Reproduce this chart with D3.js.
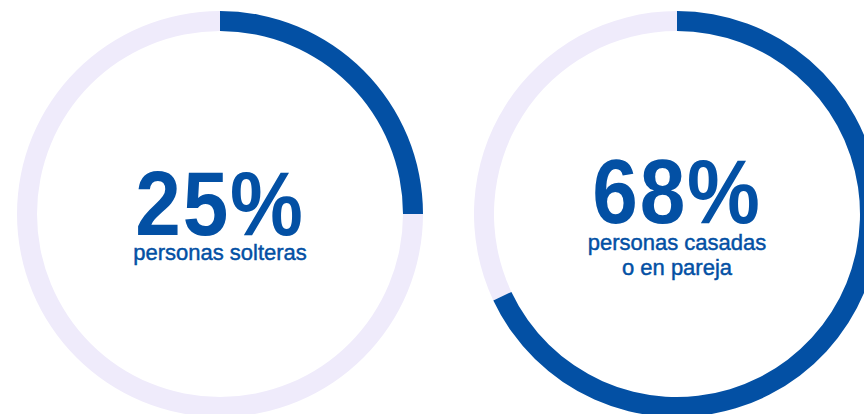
<!DOCTYPE html>
<html>
<head>
<meta charset="utf-8">
<script src="https://cdn.jsdelivr.net/npm/d3@7"></script>
<style>
  html, body { margin: 0; padding: 0; background: #ffffff; }
  svg { display: block; }
</style>
</head>
<body>
<svg id="chart" width="864" height="414"></svg>
<script>
// Share of people by relationship status, shown as progress rings
const labels = ["25%", "68%"];
const values = [25, 68];
const captions = [["personas solteras"], ["personas casadas", "o en pareja"]];

const W = 864, H = 414;
const colorFill = "#0350a4";
const colorTrack = "#efebfb";

const svg = d3.select("#chart");

// ring centres spread across the width
const x = d3.scalePoint().domain(d3.range(values.length)).range([220, 677]);
const cy = 214;
const outerR = 203, innerR = 183;

const angle = d3.scaleLinear().domain([0, 100]).range([0, 2 * Math.PI]);
const arc = d3.arc().innerRadius(innerR).outerRadius(outerR);

const g = svg.selectAll("g.ring")
  .data(values)
  .join("g")
  .attr("class", "ring")
  .attr("transform", (d, i) => `translate(${x(i)},${cy})`);

// background track, then the filled share from 12 o'clock clockwise
g.append("path")
  .attr("fill", colorTrack)
  .attr("d", d => arc({ startAngle: angle(d), endAngle: angle(100) }));

g.append("path")
  .attr("fill", colorFill)
  .attr("d", d => arc({ startAngle: 0, endAngle: angle(d) }));

// big percentage, slightly condensed
g.append("text")
  .attr("text-anchor", "middle")
  .attr("transform", (d, i) => `translate(0,${captions[i].length > 1 ? 9 : 21}) scale(0.91,1)`)
  .attr("fill", colorFill)
  .style("font-family", "'Liberation Sans', Arial, sans-serif")
  .style("font-weight", "700")
  .style("font-size", "90px")
  .style("letter-spacing", "2px")
  .text((d, i) => labels[i]);

// caption lines
g.each(function (d, i) {
  const lines = captions[i];
  const base = lines.length > 1 ? 36 : 46;
  d3.select(this).selectAll("text.cap")
    .data(lines)
    .join("text")
    .attr("class", "cap")
    .attr("text-anchor", "middle")
    .attr("x", 0)
    .attr("y", (l, j) => base + j * 25)
    .attr("fill", colorFill)
    .attr("stroke", colorFill)
    .attr("stroke-width", 0.45)
    .style("font-family", "'Liberation Sans', Arial, sans-serif")
    .style("font-size", "22px")
    .text(l => l);
});
</script>
</body>
</html>
